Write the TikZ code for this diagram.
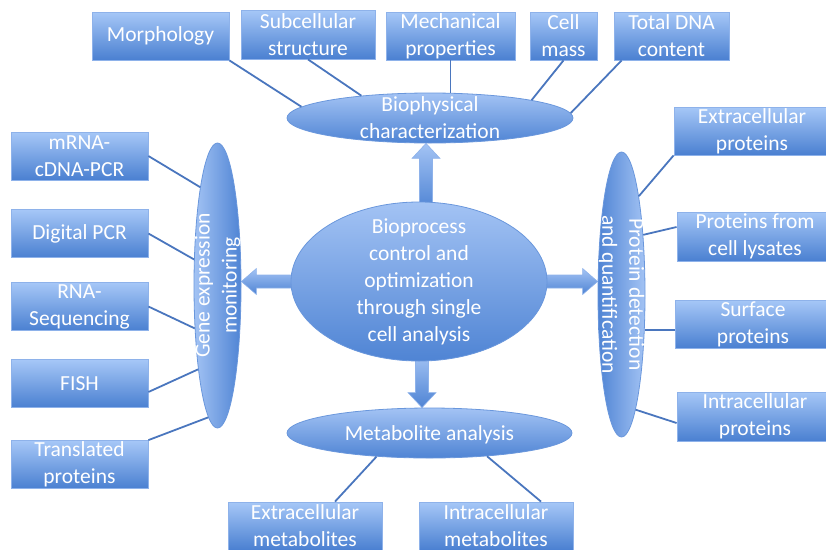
\documentclass[tikz,border=0pt]{standalone}
\usepackage{fontspec}
\setmainfont{Carlito}
\usetikzlibrary{calc,shapes.geometric}
\definecolor{boxtop}{HTML}{A6C7F7}
\definecolor{boxbot}{HTML}{4A80D1}
\definecolor{boxline}{HTML}{8EB2EA}
\definecolor{elltop}{HTML}{A3C3F4}
\definecolor{ellbot}{HTML}{4F84D4}
\definecolor{ellline}{HTML}{6A97DC}
\definecolor{linkblue}{HTML}{4A76BE}
\pgfdeclarelayer{background}
\pgfsetlayers{background,main}
\tikzset{
  lbl/.style={font=\fontsize{21.5}{27}\selectfont, text=white, align=center, inner sep=0pt},
  itembox/.style={lbl, rectangle, draw=boxline, line width=0.8pt,
    top color=boxtop, bottom color=boxbot, minimum height=48pt},
  hub/.style={ellipse, draw=ellline, line width=0.8pt, inner sep=0pt},
  hubh/.style={hub, top color=elltop, bottom color=ellbot},
  link/.style={draw=linkblue, line width=1.8pt},
  bigarrow/.style={draw=boxline, line width=0.6pt, top color=elltop, bottom color=ellbot},
}
\begin{document}
\begin{tikzpicture}[x=1pt,y=-1pt]
\useasboundingbox (0,0) rectangle (826,549);
\clip (0,0) rectangle (826,549);

% biophysical characterization branch
\node[itembox, minimum width=137pt] (morph) at (160.5,36) {Morphology};
\node[itembox, minimum width=134pt, minimum height=49pt] (subc) at (308,34.5) {Subcellular\\structure};
\node[itembox, minimum width=129pt] (mech) at (450.5,36) {Mechanical\\properties};
\node[itembox, minimum width=67pt] (mass) at (563.5,36) {Cell\\mass};
\node[itembox, minimum width=115pt] (dna) at (671.5,36) {Total DNA\\content};

% protein branch
\node[itembox, minimum width=156pt] (ecp) at (752,131) {Extracellular\\proteins};
\node[itembox, minimum width=156pt, minimum height=49pt] (lys) at (755,236.5) {Proteins from\\cell lysates};
\node[itembox, minimum width=156pt] (surf) at (753,324) {Surface\\proteins};
\node[itembox, minimum width=156pt, minimum height=49pt] (icp) at (755,416.5) {Intracellular\\proteins};

% gene expression branch
\node[itembox, minimum width=137pt] (mrna) at (79.5,156) {mRNA-\\cDNA-PCR};
\node[itembox, minimum width=137pt] (dpcr) at (79.5,233.5) {Digital PCR};
\node[itembox, minimum width=137pt] (rnaseq) at (79.5,306.5) {RNA-\\Sequencing};
\node[itembox, minimum width=137pt] (fish) at (79.5,383.5) {FISH};
\node[itembox, minimum width=137pt] (trans) at (79.5,464.5) {Translated\\proteins};

% metabolite branch
\node[itembox, minimum width=154pt] (emet) at (305,526) {Extracellular\\metabolites};
\node[itembox, minimum width=154pt] (imet) at (496,526) {Intracellular\\metabolites};

% hubs
\node[hubh, minimum width=286pt, minimum height=50pt] (bio) at (430,118) {};
\node[lbl] at (bio) {Biophysical\\characterization};
\node[hub, left color=elltop, right color=ellbot, minimum width=47pt, minimum height=285pt] (gene) at (217.5,285.5) {};
\node[lbl, rotate=90] at (gene) {Gene expression\\monitoring};
\node[hub, left color=ellbot, right color=elltop, minimum width=47pt, minimum height=285pt] (prot) at (621.5,294.5) {};
\node[lbl, rotate=-90] at (prot) {Protein detection\\and quantification};
\node[hubh, minimum width=285pt, minimum height=50pt] (met) at (429.5,433) {};
\node[lbl] at ([yshift=-2pt]met.center) {Metabolite analysis};
\node[hubh, minimum width=256pt, minimum height=159pt] (core) at (419,281.5) {};
\node[lbl] at (core) {Bioprocess\\control and\\optimization\\through single\\cell analysis};

% connectors
\draw[link] (morph.south east) -- (bio.175);
\draw[link] (subc.south) -- (bio.162);
\draw[link] (mech.south) -- (mech.south |- bio.north);
\draw[link] (mass.south) -- (bio.10);
\draw[link] ([xshift=8pt]dna.south west) -- (bio.2);

\draw[link] (mrna.east) -- (gene.100);
\draw[link] (dpcr.east) -- (gene.132);
\draw[link] (rnaseq.east) -- (gene.242);
\draw[link] ([yshift=-8.5pt]fish.east) -- (gene.257);
\draw[link] (trans.north east) -- (gene.266);

\draw[link] (ecp.south west) -- (prot.80);
\draw[link] ([yshift=9.5pt]lys.west) -- (prot.70);
\draw[link] (prot.303) -- (prot.303 -| surf.west);
\draw[link] ([yshift=-6.5pt]icp.west) -- (prot.277);

\draw[link] ([xshift=30pt]emet.north) -- (met.204);
\draw[link] ([xshift=45pt]imet.north) -- (met.338);

% block arrows from the core to each hub
\coordinate (upX) at ($(core.north)+(7,0)$);
\coordinate (upB) at ($(core.north)+(7,8)$);
\coordinate (upT) at (upX |- bio.south);
\coordinate (dnX) at ($(core.south)+(3,0)$);
\coordinate (dnB) at ($(core.south)+(3,-8)$);
\coordinate (dnT) at (dnX |- met.north);
\coordinate (lfB) at ($(core.west)+(8,0)$);
\coordinate (lfT) at (core.west -| gene.east);
\coordinate (rtB) at ($(core.east)+(-8,0)$);
\coordinate (rtT) at (core.east -| prot.west);
\begin{pgfonlayer}{background}
\path[bigarrow] ($(upB)+(-6.5,0)$) -- ($(upT)+(-6.5,15)$) -- ($(upT)+(-14,15)$) -- (upT)
  -- ($(upT)+(14,15)$) -- ($(upT)+(6.5,15)$) -- ($(upB)+(6.5,0)$) -- cycle;
\path[bigarrow] ($(dnB)+(-6.5,0)$) -- ($(dnT)+(-6.5,-15)$) -- ($(dnT)+(-14,-15)$) -- (dnT)
  -- ($(dnT)+(14,-15)$) -- ($(dnT)+(6.5,-15)$) -- ($(dnB)+(6.5,0)$) -- cycle;
\path[bigarrow] ($(lfB)+(0,-6.5)$) -- ($(lfT)+(15,-6.5)$) -- ($(lfT)+(15,-13)$) -- (lfT)
  -- ($(lfT)+(15,13)$) -- ($(lfT)+(15,6.5)$) -- ($(lfB)+(0,6.5)$) -- cycle;
\path[bigarrow] ($(rtB)+(0,-6.5)$) -- ($(rtT)+(-15,-6.5)$) -- ($(rtT)+(-15,-13)$) -- (rtT)
  -- ($(rtT)+(-15,13)$) -- ($(rtT)+(-15,6.5)$) -- ($(rtB)+(0,6.5)$) -- cycle;
\end{pgfonlayer}
\end{tikzpicture}
\end{document}
